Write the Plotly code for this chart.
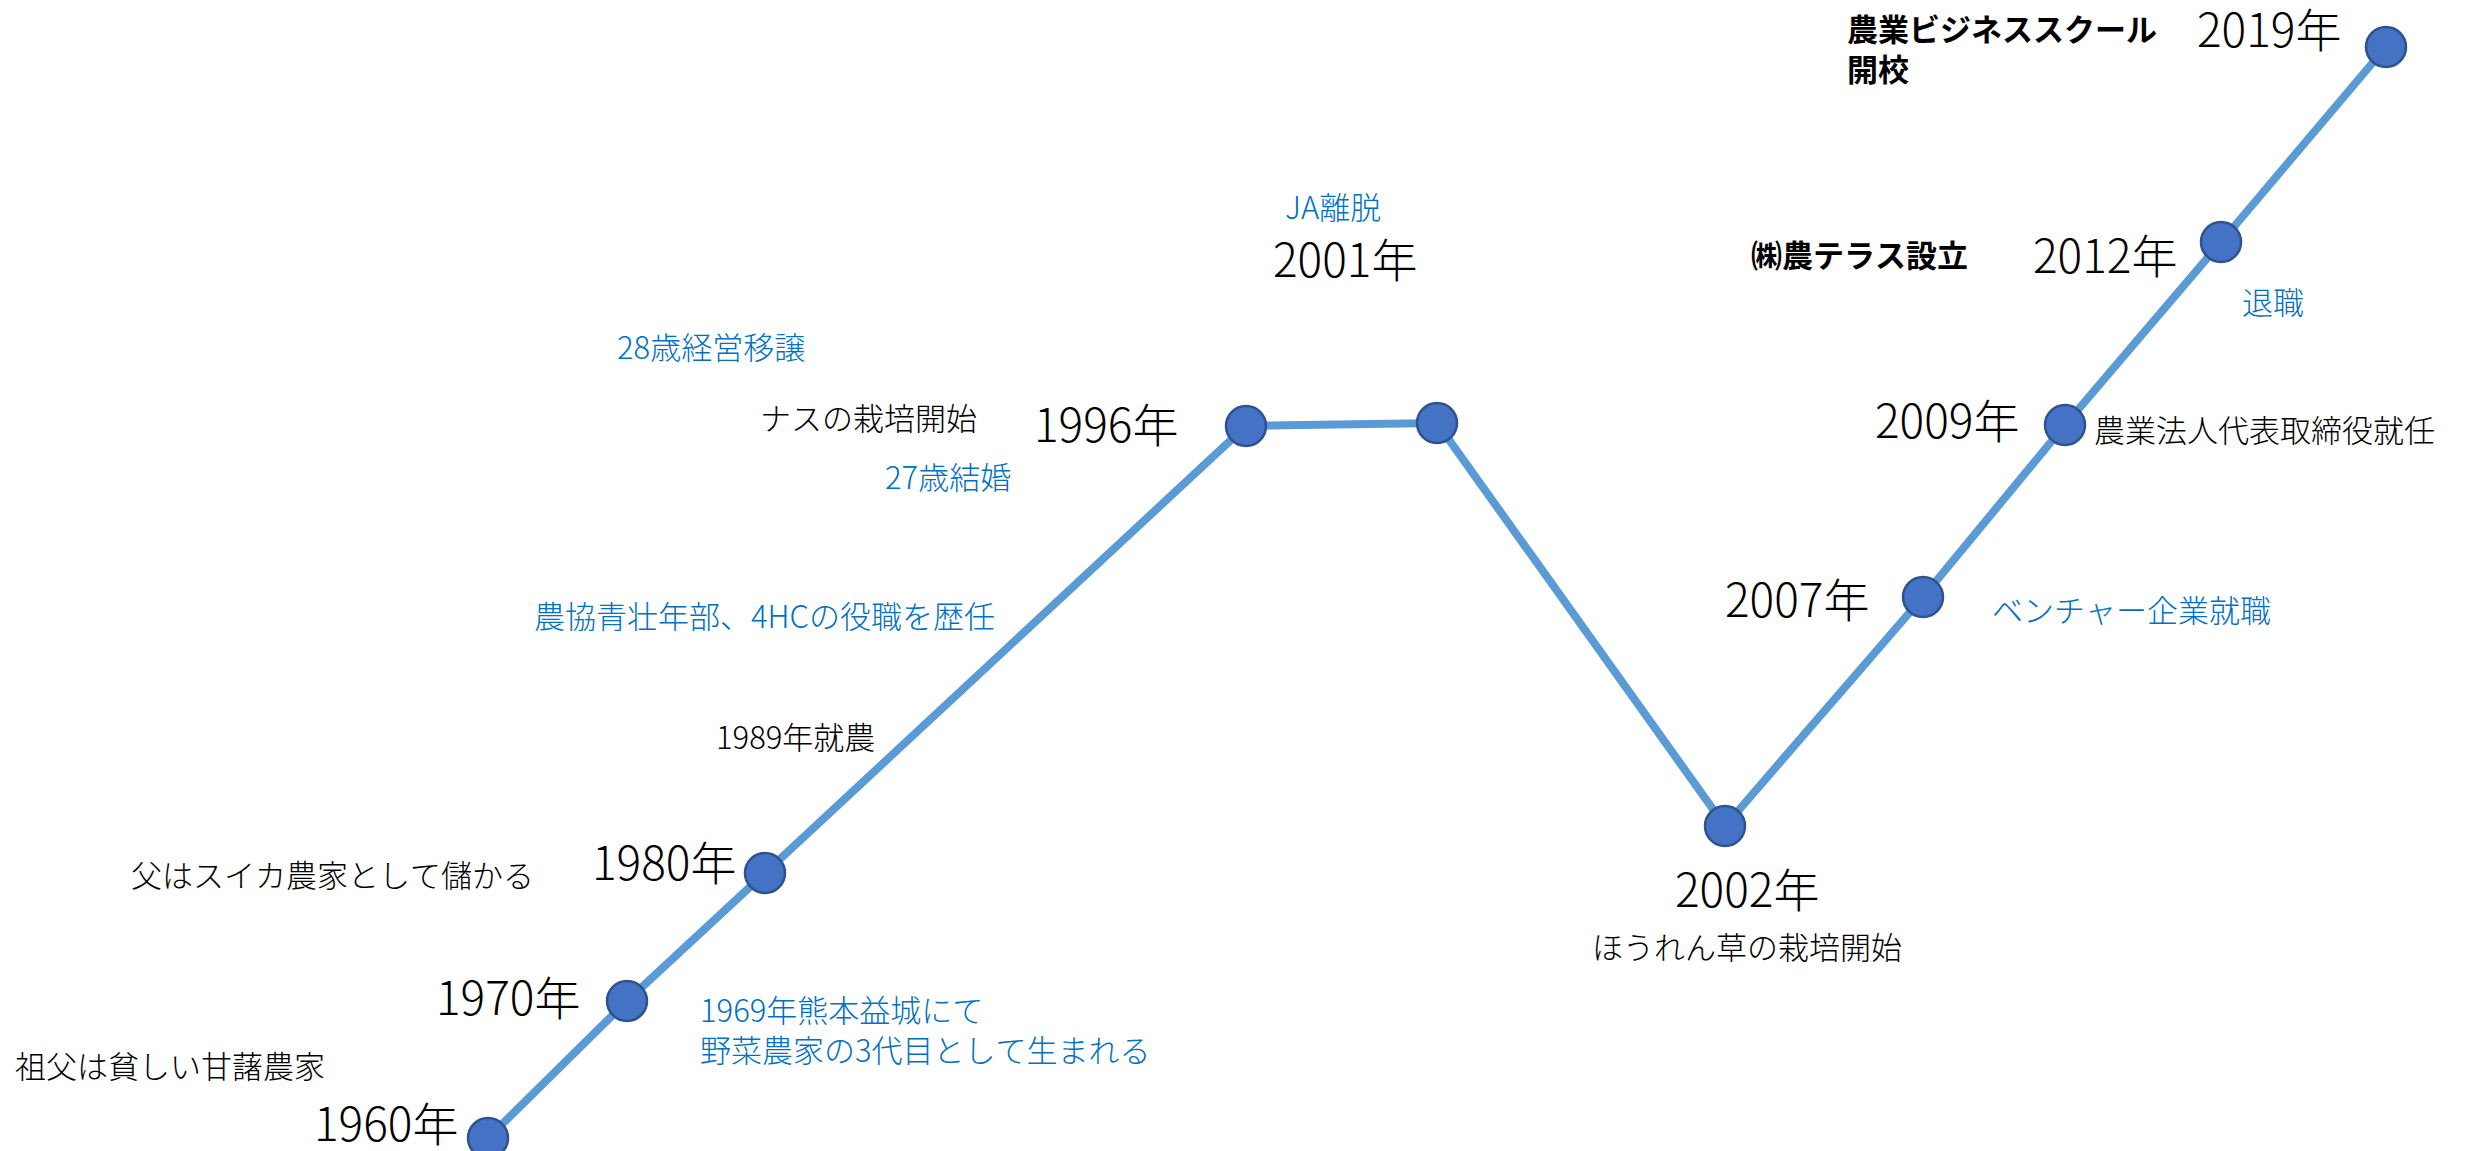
import plotly.graph_objects as go

# ---- data (pixel-space positions of each milestone) ----
years = [1960, 1970, 1980, 1996, 2001, 2002, 2007, 2009, 2012, 2019]
x_pos = [488, 627, 765, 1246, 1437, 1725, 1923, 2065, 2221, 2386]
y_pos = [1138, 1001, 873, 426, 423, 826, 597, 425, 242, 47]

# year-label placement: (anchor, x, y)
year_label_place = [
    ("right", 460, 1121),
    ("right", 582, 995),
    ("right", 738, 860),
    ("right", 1180, 422),
    ("center", 1345, 257),
    ("center", 1747, 887),
    ("right", 1871, 597),
    ("right", 2021, 418),
    ("right", 2179, 253),
    ("right", 2343, 27),
]

# event texts
event_texts = [
    "祖父は貧しい甘藷農家",
    "父はスイカ農家として儲かる",
    "1969年熊本益城にて<br>野菜農家の3代目として生まれる",
    "1989年就農",
    "農協青壮年部、4HCの役職を歴任",
    "27歳結婚",
    "ナスの栽培開始",
    "28歳経営移譲",
    "JA離脱",
    "ほうれん草の栽培開始",
    "ベンチャー企業就職",
    "農業法人代表取締役就任",
    "退職",
    "㈱農テラス設立",
    "農業ビジネススクール<br>開校",
]
event_kind = ["black", "black", "blue", "black", "blue", "blue", "black", "blue",
              "blue", "black", "blue", "black", "blue", "bold", "bold"]
# placement: (x_left, y_center)
event_place = [
    (13, 1064),
    (129, 873),
    (698, 1028),
    (714, 735),
    (532, 614),
    (883, 475),
    (758, 416),
    (615, 345),
    (1283, 205),
    (1590, 945),
    (1990, 608),
    (2092, 428),
    (2240, 300),
    (1749, 253),
    (1845, 47),
]

W, H = 2471, 1151
FONT = "Noto Sans CJK JP"
BLUE_TXT = "#0070C0"
LINE_COL = "#5B9BD5"
MARK_COL = "#4472C4"
MARK_EDGE = "#2F528F"

fig = go.Figure()
fig.add_trace(go.Scatter(
    x=x_pos, y=y_pos, mode="lines+markers",
    line=dict(color=LINE_COL, width=8),
    marker=dict(size=40, color=MARK_COL, line=dict(color=MARK_EDGE, width=2.5)),
    hoverinfo="text", text=[f"{y}年" for y in years],
    showlegend=False,
))

annotations = []
for yr, (anc, ax, ay) in zip(years, year_label_place):
    annotations.append(dict(
        x=ax, y=ay, xref="x", yref="y", text=f"{yr}年", showarrow=False,
        xanchor=anc, yanchor="middle",
        font=dict(family=FONT, size=46, color="#000000", weight=300),
    ))

for txt, kind, (ex, ey) in zip(event_texts, event_kind, event_place):
    color = BLUE_TXT if kind == "blue" else "#000000"
    weight = 700 if kind == "bold" else 300
    annotations.append(dict(
        x=ex, y=ey, xref="x", yref="y", text=txt, showarrow=False,
        xanchor="left", yanchor="middle", align="left",
        font=dict(family=FONT, size=31, color=color, weight=weight),
    ))

fig.update_layout(
    width=W, height=H, autosize=False,
    margin=dict(l=0, r=0, t=0, b=0),
    paper_bgcolor="white", plot_bgcolor="white",
    xaxis=dict(range=[0, W], visible=False, fixedrange=True),
    yaxis=dict(range=[H, 0], visible=False, fixedrange=True),
    annotations=annotations,
    font=dict(family=FONT),
)

# full-width kana spacing (no proportional kerning), no page margin
post = (
    "document.body.style.margin='0';document.body.style.overflow='hidden';"
    "var s=document.createElement('style');"
    "s.textContent='text{font-kerning:none;font-feature-settings:\"kern\" 0,\"palt\" 0;}';"
    "document.head.appendChild(s);"
)

fig.write_html("out.html", config={"displayModeBar": False}, post_script=post)
